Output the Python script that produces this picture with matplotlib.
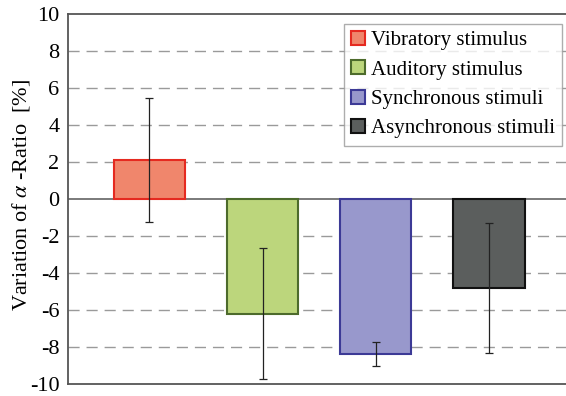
import matplotlib.pyplot as plt
from matplotlib.patches import Patch

plt.rcParams['font.family'] = ['Liberation Serif', 'DejaVu Serif']
plt.rcParams['mathtext.fontset'] = 'stix'
plt.rcParams['axes.unicode_minus'] = False

# stimulus conditions and their mean variation of the alpha ratio
conditions = ['Vibratory stimulus', 'Auditory stimulus',
              'Synchronous stimuli', 'Asynchronous stimuli']
means = [2.1, -6.2, -8.35, -4.8]
errors = [3.35, 3.55, 0.65, 3.53]
fills = ['#f0866c', '#bcd67c', '#9898cc', '#5b5e5d']
edges = ['#e52a20', '#4d6b2c', '#3c3a96', '#111111']
yticks = list(range(-10, 11, 2))

fig = plt.figure(figsize=(5.66, 3.96), dpi=100)
ax = fig.add_axes([0.12, 0.03, 0.888, 0.935])

x = range(len(conditions))
ax.bar(x, means, width=0.63, color=fills, edgecolor=edges, linewidth=1.5, zorder=3)
ax.errorbar(x, means, yerr=errors, fmt='none', ecolor='#222222',
            elinewidth=0.9, capsize=3, capthick=0.9, zorder=4)

# dashed guides at every step, solid zero line
for y in yticks:
    if y in (-10, 10):
        continue
    if y == 0:
        ax.axhline(0, color='#707070', lw=1.3, zorder=2)
    else:
        ax.axhline(y, color='#9a9a9a', lw=1.0, ls=(0, (8, 5)), zorder=1)

ax.set_xlim(-0.72, 3.72)
ax.set_ylim(-10, 10)
ax.set_yticks(yticks)
ax.set_xticks([])
ax.tick_params(axis='y', length=0, pad=6, labelsize=16)
for s in ['left', 'top', 'bottom', 'right']:
    ax.spines[s].set_color('#555555')
    ax.spines[s].set_linewidth(1.3)

ax.set_ylabel(r'Variation of $\alpha$ -Ratio  [%]', fontsize=16, va='center')
ax.yaxis.set_label_coords(-0.093, 0.51)

handles = [Patch(facecolor=f, edgecolor=e, linewidth=1.5) for f, e in zip(fills, edges)]
leg = ax.legend(handles, conditions, loc='upper right', bbox_to_anchor=(0.984, 0.973),
                fontsize=15, frameon=True, fancybox=False, edgecolor='#999999',
                handlelength=0.65, handleheight=0.65, handletextpad=0.3,
                labelspacing=0.48, borderpad=0.35, borderaxespad=0)
leg.get_frame().set_linewidth(1.0)

fig.savefig('out.png', dpi=100)
